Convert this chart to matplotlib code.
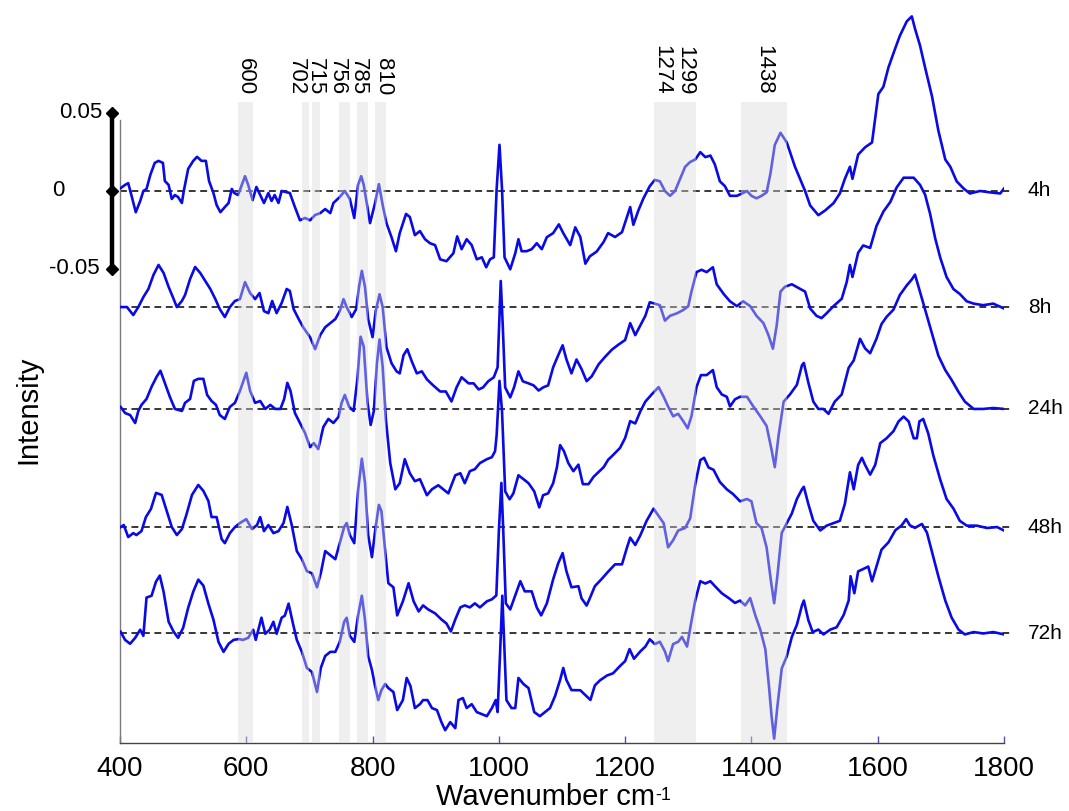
import numpy as np
import matplotlib
matplotlib.use('Agg')
import matplotlib.pyplot as plt

plt.rcParams['font.family'] = ['Liberation Sans', 'DejaVu Sans']

# ---------------- data (intensity in 1e-3 units, relative to each baseline) ----------------
wn_4h = [401, 408, 413, 418, 425, 432, 437, 442, 448, 455, 461, 468, 471, 477, 482, 487, 492, 498, 501, 508,
         516, 522, 529, 536, 541, 548, 553, 559, 566, 572, 577, 581, 587, 593, 598, 603, 610, 616, 622, 628,
         635, 640, 645, 651, 656, 664, 669, 677, 685, 693, 701, 709, 717, 725, 733, 738, 748, 756, 764, 771,
         777, 782, 786, 796, 804, 810, 816, 822, 830, 837, 843, 853, 859, 867, 875, 883, 891, 899, 907, 917,
         928, 934, 941, 949, 957, 965, 973, 980, 986, 992, 996.5, 1001, 1005, 1009, 1018, 1026, 1031, 1036, 1044, 1052,
         1060, 1068, 1076, 1086, 1095, 1102, 1113, 1121, 1129, 1137, 1144, 1155, 1166, 1173, 1184, 1195, 1200, 1208, 1213, 1221,
         1229, 1239, 1247, 1255, 1263, 1271, 1279, 1287, 1295, 1303, 1311, 1319, 1327, 1335, 1342, 1350, 1358, 1366, 1377, 1385,
         1393, 1400, 1408, 1416, 1424, 1430, 1437, 1446, 1456, 1469, 1477, 1485, 1493, 1506, 1517, 1530, 1540, 1548, 1556, 1560,
         1569, 1580, 1591, 1601, 1609, 1617, 1628, 1635, 1646, 1654, 1659, 1667, 1675, 1686, 1696, 1707, 1715, 1725, 1736, 1746,
         1762, 1778, 1794, 1800]
i_4h = [1.8, 3.9, 5.0, -2.6, -13.6, -6.4, 0, 1.3, 10.3, 18.0, 19.3, 18.0, 6.4, 3.9, -5.1, -2.6, -3.9, -7.7, 0, 14.2,
        19.3, 21.9, 19.3, 19.3, 6.4, -1.3, -9.0, -13.6, -10.3, -7.7, 1.3, -1.3, -2.6, 3.9, 9.5, 3.9, -5.9, 2.6, -2.6, -7.7,
        -1.3, -6.4, -2.6, -7.7, 0, -0.8, -1.3, -10.3, -18.8, -17.3, -18.8, -15.4, -14.2, -11.6, -14.2, -7.7, -3.9, 0, -5.1, -17.3,
        3.9, 9.5, 3.9, -20.6, -7.7, 4.4, -9.0, -20.6, -29.6, -38.6, -27.0, -14.7, -16.7, -28.3, -25.7, -30.9, -33.5, -34.7, -43.8, -45.0,
        -39.9, -29.1, -37.3, -30.9, -34.7, -43.8, -42.5, -48.9, -43.8, -42.5, 1.3, 29.6, 1.3, -42.5, -50.2, -39.9, -30.9, -38.6, -38.6, -37.3,
        -33.5, -37.3, -29.6, -27.0, -21.4, -27.0, -34.7, -23.3, -29.5, -46.6, -41.9, -38.8, -32.6, -27.0, -29.5, -26.4, -20.2, -10.3, -21.7, -12.4,
        -4.7, 3.1, 7.1, 6.2, 0, -3.1, 0, 7.8, 15.5, 18.6, 20.2, 24.9, 21.7, 22.7, 17.1, 6.2, 3.1, -3.1, -3.1, -1.6,
        0, -3.1, -4.7, -3.1, -0.9, 10.9, 29.5, 37.3, 31.1, 15.5, 7.8, 0, -9.3, -15.5, -12.4, -7.8, -1.6, 7.8, 15.5, 7.8,
        23.3, 28.0, 31.1, 62.1, 66.8, 79.2, 91.7, 99.4, 108.7, 111.9, 104.1, 93.2, 79.2, 60.6, 38.8, 20.2, 15.5, 6.2, 1.6, -1.6,
        0, -0.9, -1.6, 1.6]

wn_8h = [401, 411, 421, 429, 437, 445, 453, 461, 469, 477, 485, 490, 498, 503, 511, 519, 527, 535, 543, 551,
         558, 566, 574, 582, 590, 598, 606, 614, 621, 628, 635, 641, 648, 656, 664, 669, 675, 683, 690, 701,
         709, 717, 725, 733, 741, 748, 754, 759, 767, 774, 779, 783, 788, 793, 800, 805, 811, 816, 822, 830,
         838, 843, 849, 855, 862, 870, 878, 886, 896, 907, 916, 925, 933, 941, 952, 960, 968, 975, 983, 992,
         998, 1003, 1006, 1010, 1018, 1024, 1031, 1038, 1047, 1055, 1063, 1070, 1078, 1086, 1094, 1101, 1107, 1115, 1123, 1131,
         1139, 1147, 1158, 1168, 1179, 1189, 1200, 1208, 1216, 1224, 1232, 1239, 1247, 1255, 1263, 1271, 1282, 1292, 1300, 1305,
         1313, 1321, 1329, 1339, 1345, 1356, 1366, 1377, 1387, 1398, 1408, 1419, 1427, 1434, 1440, 1446, 1453, 1464, 1474, 1485,
         1493, 1503, 1511, 1519, 1530, 1543, 1551, 1556, 1560, 1569, 1577, 1588, 1598, 1609, 1620, 1630, 1641, 1649, 1657, 1667,
         1675, 1683, 1691, 1699, 1709, 1720, 1730, 1741, 1752, 1767, 1783, 1800]
i_8h = [0, 0, -5.1, 0, 6.4, 11.6, 20.6, 27.0, 21.9, 12.9, 5.1, 0, 3.9, 7.7, 18.0, 25.7, 21.9, 16.7, 11.6, 5.1,
        -1.3, -6.4, 0, 3.9, 5.1, 16.0, 9.0, 5.1, 9.0, -2.6, -3.9, 3.9, -3.9, 2.6, 11.6, 10.3, -1.3, -7.7, -12.9, -19.3,
        -27.0, -18.0, -12.9, -10.3, -7.7, -2.6, 5.1, 0, -6.4, -1.3, 14.2, 23.2, 12.9, -7.7, -19.3, -2.6, 8.2, 0, -25.7, -36.0,
        -41.2, -42.5, -30.9, -27.0, -34.7, -42.5, -41.2, -46.3, -50.2, -54.1, -54.1, -60.5, -51.5, -45.0, -48.9, -48.9, -52.8, -51.5, -47.6, -45.0,
        -38.6, 16.7, -10.3, -51.5, -57.9, -51.5, -41.2, -47.6, -48.9, -50.2, -53.5, -51.5, -50.2, -38.6, -30.9, -24.5, -33.5, -42.5, -33.6, -39.8,
        -47.5, -44.4, -36.7, -32.0, -27.3, -24.2, -21.1, -10.3, -18.0, -11.8, -5.6, 3.1, 2.2, 1.2, -8.7, -5.6, -4.0, -1.9, 0.6, 9.9,
        22.4, 23.9, 22.4, 25.5, 14.6, 8.4, 3.7, 0.6, 3.7, 0.6, -5.6, -10.3, -18.0, -26.7, -11.8, 9.9, 13.0, 14.6, 12.4, 9.9,
        -0.9, -5.6, -7.1, -4.0, 0.6, 5.3, 16.2, 27.0, 19.3, 34.8, 39.5, 37.9, 51.9, 61.2, 67.4, 76.7, 82.9, 82.9, 82.9, 78.3,
        72.1, 59.7, 44.1, 31.7, 19.3, 11.5, 8.4, 3.7, 2.2, 1.2, 2.2, -0.9]

wn_24h = [401, 408, 416, 424, 429, 434, 442, 450, 458, 464, 471, 479, 487, 498, 503, 511, 517, 524, 532, 538,
          545, 552, 558, 566, 574, 582, 590, 600, 606, 614, 622, 630, 638, 646, 654, 660, 665, 670, 677, 685,
          693, 701, 707, 714, 722, 730, 738, 746, 751, 756, 763, 770, 776, 781, 786, 792, 797, 802, 807, 811,
          816, 821, 828, 836, 843, 851, 859, 867, 875, 886, 894, 904, 912, 920, 931, 939, 946, 954, 962, 970,
          981, 989, 994, 996.5, 1001, 1005, 1010, 1017, 1023, 1031, 1039, 1047, 1056, 1064, 1070, 1078, 1086, 1092, 1097, 1103,
          1110, 1118, 1126, 1133, 1142, 1150, 1158, 1166, 1173, 1181, 1192, 1200, 1208, 1216, 1224, 1232, 1242, 1253, 1261, 1268,
          1276, 1284, 1292, 1299, 1305, 1313, 1320, 1329, 1339, 1345, 1353, 1361, 1366, 1374, 1382, 1393, 1403, 1414, 1424, 1432,
          1437, 1443, 1451, 1461, 1472, 1480, 1483, 1490, 1498, 1506, 1514, 1522, 1532, 1543, 1554, 1562, 1572, 1580, 1588, 1598,
          1606, 1614, 1625, 1635, 1646, 1654, 1659, 1664, 1675, 1686, 1696, 1707, 1717, 1728, 1738, 1752, 1767, 1783, 1800]
i_24h = [1.3, -2.6, -3.9, -9.0, -1.3, 2.6, 6.4, 14.2, 20.6, 24.5, 16.7, 7.7, 0, -1.3, 3.9, 6.4, 18.0, 19.3, 19.3, 9.0,
         5.1, 2.6, -3.9, -6.4, 1.3, 3.9, 11.6, 23.2, 11.6, 3.9, 5.1, 0, 2.6, 0, 0, 6.4, 16.7, 11.6, -2.6, -9.0,
         -15.4, -24.5, -21.9, -25.7, -11.6, -6.4, -9.0, -5.1, 3.9, 9.0, 1.3, -1.3, 19.3, 46.3, 39.9, 3.9, -10.3, -1.3, 29.6, 44.5,
         27.0, -6.4, -34.7, -51.5, -47.6, -32.2, -41.2, -46.3, -45.0, -55.3, -51.5, -48.9, -51.5, -54.1, -42.5, -41.2, -47.6, -39.9, -38.6, -34.7,
         -32.2, -30.9, -27.0, -16.7, 18.0, -1.3, -52.8, -57.9, -54.1, -42.5, -45.0, -47.6, -52.8, -63.1, -55.3, -54.1, -47.6, -37.3, -23.2, -27.0,
         -34.7, -39.9, -35.7, -48.2, -48.2, -43.5, -40.4, -37.3, -32.6, -29.5, -24.9, -18.6, -7.8, -9.3, -1.6, 4.7, 9.3, 14.0, 7.8, 1.6,
         -4.7, -3.1, -7.8, -12.4, -4.7, 14.0, 21.7, 21.7, 24.9, 14.0, 9.3, 7.8, 1.6, 6.2, 7.8, 7.8, 1.6, -4.7, -10.9, -26.4,
         -37.3, -17.1, 4.7, 9.3, 15.5, 28.0, 29.5, 17.1, 4.7, 0, 0, -3.1, 4.7, 9.3, 26.4, 31.1, 45.0, 38.8, 35.7, 45.0,
         54.4, 59.0, 63.7, 73.0, 79.2, 83.0, 86.1, 79.2, 63.7, 48.2, 34.2, 24.9, 18.6, 10.9, 4.7, 0, 0, 0.6, 0]

wn_48h = [401, 406, 413, 421, 426, 434, 441, 449, 457, 466, 474, 482, 490, 498, 505, 514, 524, 532, 540, 545,
          553, 561, 566, 574, 582, 590, 600, 609, 617, 622, 628, 635, 643, 651, 659, 665, 672, 680, 688, 696,
          704, 712, 718, 725, 733, 741, 748, 755, 759, 764, 771, 777, 783, 788, 793, 799, 804, 810, 814, 820,
          825, 833, 839, 848, 857, 865, 873, 880, 888, 899, 909, 917, 924, 931, 939, 946, 954, 962, 970, 981,
          989, 996, 1000, 1004, 1007, 1011, 1018, 1026, 1034, 1041, 1052, 1060, 1067, 1076, 1086, 1094, 1101, 1107, 1115, 1126,
          1131, 1139, 1144, 1152, 1163, 1173, 1184, 1195, 1203, 1208, 1216, 1224, 1234, 1245, 1253, 1261, 1268, 1276, 1284, 1295,
          1303, 1311, 1319, 1325, 1332, 1340, 1350, 1361, 1371, 1382, 1393, 1400, 1408, 1416, 1424, 1431, 1436, 1441, 1448, 1456,
          1464, 1472, 1480, 1483, 1490, 1498, 1509, 1519, 1530, 1540, 1548, 1556, 1562, 1569, 1575, 1580, 1588, 1596, 1604, 1614,
          1625, 1633, 1641, 1649, 1657, 1662, 1666, 1672, 1680, 1688, 1699, 1709, 1720, 1730, 1741, 1757, 1773, 1789, 1800]
i_48h = [0, 1.3, -6.4, -3.9, -5.1, -2.6, 6.4, 11.6, 21.9, 20.6, 10.3, 0, -5.1, -1.3, 7.7, 20.6, 27.0, 23.2, 16.7, 6.4,
         6.4, -7.7, -10.3, -3.9, 0, 2.6, 5.1, -1.3, 1.3, 6.4, -2.6, 1.3, -3.9, -2.6, 2.6, 12.9, 1.3, -15.4, -20.6, -28.3,
         -29.6, -38.6, -29.6, -15.4, -18.0, -20.6, -10.3, 0, 2.6, -5.1, -10.3, 23.2, 43.8, 28.3, -5.1, -19.3, -2.6, 14.2, 10.3, -15.4,
         -36.0, -38.6, -56.6, -47.6, -36.0, -47.6, -54.1, -50.2, -52.8, -55.3, -59.2, -61.8, -66.9, -59.2, -51.5, -50.2, -51.5, -48.9, -51.5, -47.6,
         -46.3, -43.8, -2.6, 28.3, -2.6, -48.9, -52.8, -43.8, -34.7, -41.2, -41.2, -51.5, -56.6, -48.9, -33.5, -23.2, -16.7, -28.3, -38.6, -37.9,
         -45.7, -50.3, -45.7, -37.9, -33.2, -28.6, -23.9, -23.9, -13.0, -6.8, -11.5, -5.3, 4.0, 11.8, 7.1, 2.5, -13.0, -8.4, -2.2, -0.6,
         5.6, 27.3, 42.9, 44.4, 38.2, 36.7, 28.9, 24.2, 21.1, 16.5, 18.0, 16.5, 2.5, -0.6, -13.0, -34.8, -48.8, -31.7, -3.7, 2.5,
         8.7, 18.0, 24.2, 25.8, 14.9, 4.0, -2.2, 0.9, 2.5, 4.0, 14.9, 35.1, 24.2, 39.8, 44.4, 39.8, 33.6, 39.8, 53.8, 56.9,
         61.5, 67.7, 70.8, 67.7, 56.9, 56.9, 67.7, 69.3, 60.0, 46.0, 30.4, 18.0, 11.8, 4.0, 0.9, 0.9, -0.6, 0, -2.2]

wn_72h = [401, 408, 416, 424, 432, 437, 442, 450, 457, 463, 469, 477, 485, 492, 500, 508, 516, 524, 532, 540,
          548, 556, 564, 572, 580, 588, 595, 603, 611, 615, 624, 630, 637, 643, 648, 656, 661, 667, 674, 680,
          688, 696, 704, 712, 718, 725, 733, 741, 748, 755, 759, 764, 771, 777, 783, 788, 793, 799, 804, 809,
          814, 820, 825, 833, 839, 848, 854, 860, 867, 875, 880, 887, 894, 902, 909, 915, 923, 931, 936, 943,
          949, 957, 965, 973, 981, 989, 995, 998, 1002, 1005.5, 1009, 1012, 1020, 1026, 1031, 1039, 1047, 1056, 1065, 1073,
          1081, 1089, 1097, 1102, 1107, 1115, 1129, 1137, 1145, 1152, 1160, 1171, 1181, 1192, 1200, 1207, 1214, 1224, 1232, 1239,
          1247, 1255, 1263, 1268, 1276, 1284, 1290, 1298, 1304, 1311, 1319, 1327, 1335, 1342, 1353, 1364, 1374, 1382, 1390, 1398,
          1406, 1414, 1422, 1428, 1432, 1436, 1441, 1448, 1456, 1464, 1472, 1480, 1483, 1490, 1497, 1506, 1514, 1525, 1535, 1546,
          1554, 1557, 1563, 1569, 1577, 1585, 1591, 1598, 1606, 1617, 1628, 1638, 1645, 1651, 1659, 1670, 1678, 1686, 1696, 1707,
          1717, 1728, 1738, 1752, 1767, 1783, 1800]
i_72h = [0.8, -4.4, -6.9, -3.1, 2.1, -1.8, 22.7, 23.9, 32.9, 36.8, 26.5, 7.2, 0.8, -3.1, 3.3, 16.2, 26.5, 34.2, 30.4, 18.8,
         8.5, -5.7, -12.1, -6.9, -4.4, -3.9, -4.4, -3.1, 2.1, -4.4, 9.8, -0.5, 2.1, 7.2, -0.5, 9.8, 11.1, 18.8, 5.9, -4.4,
         -12.1, -22.4, -25.0, -37.8, -22.4, -14.7, -12.1, -12.1, -5.7, 7.2, 9.8, -1.8, -5.7, 11.1, 23.9, 8.5, -14.7, -23.7, -34.0, -43.0,
         -36.6, -32.7, -35.3, -37.8, -49.4, -43.0, -28.8, -34.0, -48.1, -45.6, -43.0, -43.0, -48.1, -49.4, -57.1, -62.3, -57.1, -61.0, -43.0, -41.7,
         -48.1, -45.6, -50.7, -52.0, -53.3, -48.1, -43.0, -50.7, -12.1, 23.9, -12.1, -43.0, -48.1, -48.1, -28.8, -32.7, -35.3, -50.7, -53.3, -50.7,
         -48.1, -40.4, -30.1, -22.4, -30.1, -36.6, -36.7, -39.8, -42.9, -33.6, -30.4, -27.3, -25.8, -21.1, -18.0, -10.3, -16.5, -11.8, -8.7, -4.0,
         -7.1, -5.6, -11.8, -18.0, -7.1, -5.6, -2.5, -8.7, 5.3, 20.8, 33.2, 31.7, 33.2, 30.1, 25.5, 22.4, 19.3, 20.8, 17.7, 22.4,
         11.5, 2.2, -10.3, -35.1, -53.8, -67.7, -47.5, -22.7, -14.9, -2.5, 5.3, 17.7, 20.8, 8.4, 0.6, 2.2, -0.9, 2.2, 3.7, 11.5,
         20.8, 36.4, 25.5, 39.5, 41.0, 42.6, 33.2, 42.6, 53.4, 58.1, 65.9, 69.0, 73.0, 69.0, 67.4, 69.9, 64.3, 51.9, 36.4, 20.8,
         9.9, 2.2, -0.9, 0.6, -0.3, 0.6, -0.9]

series_wn = [wn_4h, wn_8h, wn_24h, wn_48h, wn_72h]
series_i = [i_4h, i_8h, i_24h, i_48h, i_72h]
series_labels = ['4h', '8h', '24h', '48h', '72h']
offsets = [0.0, -74.4, -139.7, -215.4, -283.3]   # baseline of each trace, 1e-3 units

band_lo = [587, 689, 704, 747, 775, 804, 1246, 1383]
band_hi = [611, 699, 717, 765, 793, 822, 1312, 1456]
peak_labels = ['600', '702', '715', '756', '785', '810', '1274', '1299', '1438']
peak_label_x = [599, 680, 710, 745, 777.5, 817, 1258, 1295, 1420]

xticks = [400, 600, 800, 1000, 1200, 1400, 1600, 1800]

# ---------------- figure ----------------
W, H = 1069, 811
fig = plt.figure(figsize=(W / 100, H / 100), dpi=100)
ax = fig.add_axes([120 / W, 68 / H, 884 / W, 738 / H])
ybot, ytop = -0.3538, 0.1192
ax.set_xlim(400, 1800)
ax.set_ylim(ybot, ytop)

line_col = '#0a0ae6'
for wn, iv, off, lab in zip(series_wn, series_i, offsets, series_labels):
    y = (np.array(iv) + off) * 1e-3
    ax.plot(wn, y, color=line_col, lw=1.9, zorder=3, solid_joinstyle='round')
    ax.plot([400, 1813], [off * 1e-3, off * 1e-3], color='black', lw=1.1,
            ls=(0, (4.5, 3)), zorder=2, clip_on=False)
    ax.text(1838, off * 1e-3, lab, fontsize=15, ha='left', va='center', clip_on=False)

# shaded bands drawn over the curves
band_top = 0.057
for lo, hi in zip(band_lo, band_hi):
    ax.fill_between([lo, hi], ybot, band_top, color='#dadada', alpha=0.42, lw=0, zorder=4)

for lab, xp in zip(peak_labels, peak_label_x):
    ax.text(xp, 0.0615, lab, rotation=270, fontsize=16, ha='center', va='bottom', clip_on=False)

# scale bar
sb_x = 388
ax.plot([sb_x, sb_x], [-0.05, 0.05], color='black', lw=3.2, clip_on=False, zorder=5)
ax.plot([sb_x] * 3, [-0.05, 0, 0.05], ls='none', marker='D', ms=6, color='black', clip_on=False, zorder=5)
ax.text(371.5, 0.05, '0.05', fontsize=16, ha='right', va='center', clip_on=False)
ax.text(302, 0.0, '0', fontsize=16, ha='center', va='center', clip_on=False)
ax.text(368, -0.05, '-0.05', fontsize=16, ha='right', va='center', clip_on=False)

# axes styling
for s in ['top', 'right']:
    ax.spines[s].set_visible(False)
ax.spines['left'].set_color('#7a7a7a')
ax.spines['left'].set_linewidth(1.0)
ax.spines['left'].set_bounds(ybot, 0.0455)
ax.spines['bottom'].set_color('#444444')
ax.spines['bottom'].set_linewidth(1.0)
ax.set_yticks([])
ax.set_xticks(xticks)
ax.set_xticklabels([str(t) for t in xticks])
ax.tick_params(axis='x', direction='in', length=5, width=1, color='#5050b8', labelsize=20, pad=9)

# x label with a hyphen superscript placed right after "cm"
t_main = fig.text(545 / W, 1 - 797 / H, 'Wavenumber cm', fontsize=21, ha='center', va='center')
fig.canvas.draw()
bb = t_main.get_window_extent(renderer=fig.canvas.get_renderer())
fig.text((bb.x1 + 1) / W, (bb.y1 - 4) / H, '-1', fontsize=13, ha='left', va='top')
fig.text(28 / W, 1 - 410 / H, 'Intensity', fontsize=21, rotation=90, ha='center', va='center')

fig.savefig('out.png', dpi=100)
